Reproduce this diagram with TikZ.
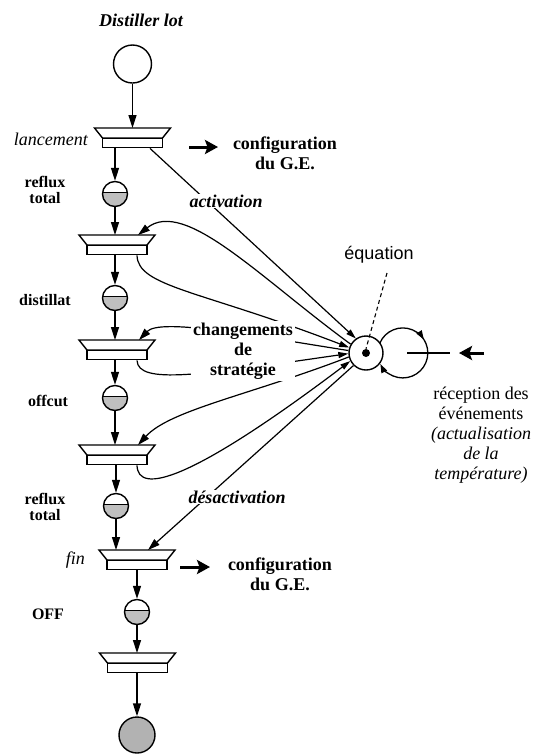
\documentclass[tikz,border=0pt]{standalone}
\usepackage{fontspec}
\setmainfont{Liberation Serif}
\newfontfamily\sansf{Liberation Sans}
\usetikzlibrary{arrows.meta,decorations.markings}
\begin{document}
\begin{tikzpicture}[x=1pt,y=-1pt,
  pplace/.style={circle,draw,line width=1.4pt,minimum size=25pt,inner sep=0pt,
    path picture={
      \fill[gray!50] ([yshift=1.5pt]path picture bounding box.west) rectangle (path picture bounding box.south east);
      \draw[line width=1.2pt] ([yshift=1.5pt]path picture bounding box.west) -- ([yshift=1.5pt]path picture bounding box.east);}},
  tbar/.style={draw,line width=1.4pt,minimum width=60pt,minimum height=9pt,inner sep=0pt,anchor=north},
  trans/.pic={
    \draw[line width=1.4pt,line join=miter] (-38,0) -- (38,0) -- (30,10) -- (-30,10) -- cycle;
    \node[tbar] (-bar) at (0,10) {};
    \coordinate (-top) at (0,0);},
  parrow/.style={line width=1.4pt,-{Triangle[length=13pt,width=8pt]}},
  tarrow/.style={line width=1.2pt,-{Triangle[length=12pt,width=7.5pt]}},
  earrow/.style={line width=1.2pt,-{Triangle[length=10pt,width=6pt]}},
  bigarrow/.style={line width=3pt,-{Stealth[length=13pt,width=14pt,inset=2.5pt]}},
  lab/.style={font=\fontsize{18}{20}\selectfont,inner sep=1pt,align=center},
  sidelab/.style={font=\fontsize{16}{16}\selectfont\bfseries,inner sep=1pt,align=center},
]
\useasboundingbox (0,0) rectangle (535,756);
% ---- Petri net column
\node[circle,draw,line width=1.4pt,minimum size=38pt,inner sep=0pt] (s) at (132.5,64) {};
\pic (t1) at (132.5,128) {trans};
\node[pplace] (p1) at (115,194) {};
\pic (t2) at (117,235) {trans};
\node[pplace] (p2) at (115,298) {};
\pic (t3) at (117,340) {trans};
\node[pplace] (p3) at (115,398) {};
\pic (t4) at (117,445) {trans};
\node[pplace] (p4) at (116,506) {};
\pic (t5) at (137,550) {trans};
\node[pplace] (p5) at (137,612) {};
\pic (t6) at (137.5,653) {trans};
\node[circle,draw,line width=1.4pt,minimum size=36pt,inner sep=0pt,fill=gray!60] (endp) at (137,735) {};

\draw[parrow] (s.south) -- (t1-top);
\draw[parrow] (t1-bar.south -| p1) -- (p1.north);
\draw[parrow] (p1.south) -- (p1.south |- t2-top);
\draw[parrow] (t2-bar.south -| p2) -- (p2.north);
\draw[parrow] (p2.south) -- (p2.south |- t3-top);
\draw[parrow] (t3-bar.south -| p3) -- (p3.north);
\draw[parrow] (p3.south) -- (p3.south |- t4-top);
\draw[parrow] (t4-bar.south -| p4) -- (p4.north);
\draw[parrow] (p4.south) -- (p4.south |- t5-top);
\draw[parrow] (t5-bar.south -| p5) -- (p5.north);
\draw[parrow] (p5.south) -- (p5.south |- t6-top);
\draw[parrow] (t6-bar.south -| endp) -- (endp.north);

% ---- equation and loop
\node[circle,minimum size=50pt,inner sep=0pt] (L) at (403,353) {};
\draw[line width=1.3pt, postaction={decorate},
  decoration={markings, mark=at position 0.40 with {\arrow{Triangle[length=9pt,width=6pt]}}},
  -{Triangle[length=9pt,width=6pt]}] (L.157) arc[start angle=203, end angle=514, radius=25];
\node[circle,draw,line width=1.4pt,minimum size=34pt,inner sep=0pt,fill=white] (E) at (366,353) {};
\node[circle,fill,minimum size=8pt,inner sep=0pt] (dot) at (E.center) {};
\coordinate (hl) at (450,353);
\draw[line width=1.3pt] ([xshift=4pt]L.center) -- (hl);
\coordinate (ta1) at (484,353);
\coordinate (ta2) at (459,353);
\draw[bigarrow] (ta1) -- (ta2);

\node[font=\sansf\fontsize{18}{20}\selectfont,inner sep=1pt] (eqlab) at (379,255) {équation};
\coordinate (dsh) at (387,273);
\draw[line width=1.1pt,dash pattern=on 4pt off 3pt] (dsh) -- (dot.north);

% ---- connectors between transitions and equation
\draw[earrow] ([xshift=17.5pt]t1-bar.south) -- (E.125);
\draw[tarrow] (E.150) .. controls (260,278) and (185,198) .. ([xshift=21pt]t2-top);
\draw[earrow] ([xshift=20pt]t2-bar.south) .. controls (138,287) and (200,290) .. (E.162);
\draw[tarrow] (E.172) .. controls (250,335) and (160,318) .. ([xshift=22pt]t3-top);
\draw[earrow] ([xshift=20pt]t3-bar.south) .. controls (138,385) and (200,375) .. (E.182);
\draw[tarrow] (E.193) .. controls (250,395) and (170,410) .. ([xshift=21pt]t4-top);
\draw[earrow] ([xshift=20pt]t4-bar.south) .. controls (138,495) and (190,482) .. (E.207);
\draw[tarrow] (E.225) -- ([xshift=11pt]t5-top);

% ---- labels
\node[lab,font=\fontsize{18}{20}\selectfont\bfseries\itshape] (title) at (141,20) {Distiller lot};
\node[lab,font=\fontsize{18}{20}\selectfont\itshape,anchor=east] (lanc) at (89,139) {lancement};
\node[sidelab] (l1) at (45,190) {reflux\\total};
\node[sidelab] (l2) at (45,300) {distillat};
\node[sidelab] (l3) at (48,401) {offcut};
\node[sidelab] (l4) at (45,507) {reflux\\total};
\node[lab,font=\fontsize{18}{20}\selectfont\itshape,anchor=east] (lfin) at (86,560) {fin};
\node[sidelab] (l5) at (48,614) {OFF};

\node[lab,font=\fontsize{18}{20}\selectfont\bfseries] (cfg1) at (285,153.5) {configuration\\du G.E.};
\coordinate (ca1) at (189,147);
\coordinate (ca2) at (218,147);
\draw[bigarrow] (ca1) -- (ca2);
\node[lab,font=\fontsize{18}{20}\selectfont\bfseries] (cfg2) at (280,574) {configuration\\du G.E.};
\coordinate (cb1) at (180,567);
\coordinate (cb2) at (210,567);
\draw[bigarrow] (cb1) -- (cb2);

\node[lab,font=\fontsize{18}{20}\selectfont\bfseries\itshape,fill=white] (act) at (226,201) {activation};
\node[lab,font=\fontsize{18}{20}\selectfont\bfseries\itshape,fill=white] (deact) at (237,497) {désactivation};
\node[lab,font=\fontsize{18}{20}\selectfont\bfseries,fill=white,inner sep=2pt] (chg) at (243,351) {changements\\de\\stratégie};
\node[lab] (rec) at (481,435) {réception des\\événements\\\textit{(actualisation}\\\textit{de la}\\\textit{température)}};
\end{tikzpicture}
\end{document}
